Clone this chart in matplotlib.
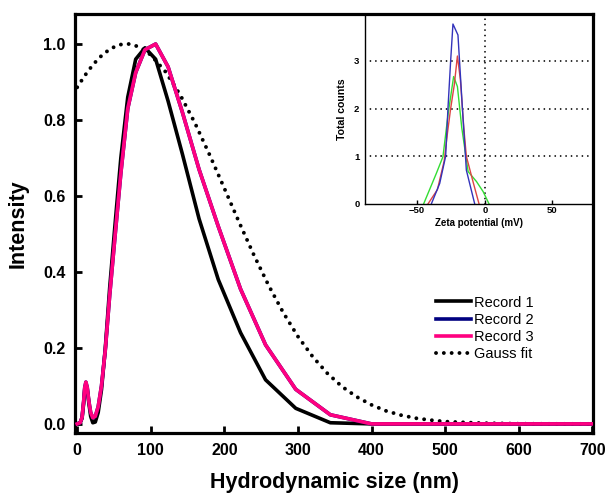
import matplotlib
matplotlib.use("Agg")
import matplotlib.pyplot as plt
import numpy as np

# ---- main chart data ----
size_nm = [0, 4, 6.6, 8.8, 10.2, 11.8, 13.7, 15.8, 18.3, 21.2, 24.6, 28.5, 33.0, 38.2, 44.2,
           51.2, 59.3, 68.7, 79.5, 92.1, 106.6, 123.5, 143.0, 165.6, 191.7, 222.0,
           256.0, 297.0, 344.0, 400.0, 460.0, 530.0, 600.0, 700.0]
record1 = [0.0, 0.003, 0.015, 0.055, 0.09, 0.105, 0.09, 0.055, 0.02, 0.003, 0.005, 0.03, 0.09,
           0.20, 0.36, 0.52, 0.70, 0.86, 0.96, 0.99, 0.96, 0.85, 0.71, 0.54, 0.38, 0.24,
           0.116, 0.041, 0.003, 0.0, 0.0, 0.0, 0.0, 0.0]
record3 = [0.0, 0.003, 0.017, 0.06, 0.095, 0.11, 0.095, 0.06, 0.03, 0.016, 0.02, 0.045, 0.10,
           0.195, 0.34, 0.49, 0.66, 0.83, 0.925, 0.985, 1.0, 0.94, 0.82, 0.67, 0.52, 0.355,
           0.208, 0.091, 0.024, 0.0, 0.0, 0.0, 0.0, 0.0]
record2 = list(record3)

gauss_x = [0, 10, 20, 30, 40, 50, 60, 70, 80, 90, 100, 120, 140, 160, 180, 200, 220, 240,
           260, 280, 300, 320, 340, 360, 380, 400, 420, 440, 460, 480, 500, 550, 600, 650, 700]
gauss_y = [0.886, 0.916, 0.942, 0.964, 0.980, 0.992, 0.999, 1.0, 0.995, 0.986, 0.971, 0.927,
           0.866, 0.792, 0.708, 0.620, 0.531, 0.445, 0.365, 0.293, 0.230, 0.177, 0.133,
           0.098, 0.071, 0.050, 0.034, 0.023, 0.015, 0.010, 0.006, 0.002, 0.0004, 0.0001, 0.0]

x_ticks = [0, 100, 200, 300, 400, 500, 600, 700]
y_ticks = [0.0, 0.2, 0.4, 0.6, 0.8, 1.0]
legend_labels = ["Record 1", "Record 2", "Record 3", "Gauss fit"]

# ---- inset data ----
zeta_blue_x = [-39.5, -33.3, -28.9, -27.2, -25.2, -23.5, -19.8, -16.5, -13.6, -7.4]
zeta_blue_y = [0.0, 0.43, 1.0, 2.0, 3.0, 3.77, 3.54, 2.0, 0.71, 0.0]
zeta_red_x = [-42.0, -35.0, -30.0, -27.5, -25.2, -22.5, -20.2, -18.0, -15.5, -13.6, -8.7, -4.2]
zeta_red_y = [0.0, 0.3, 0.9, 1.5, 2.0, 2.5, 3.1, 2.6, 1.6, 1.0, 0.47, 0.0]
zeta_green_x = [-45.2, -35.8, -30.9, -27.0, -23.0, -20.2, -17.0, -12.3, -6.1, -1.2, 3.2]
zeta_green_y = [0.0, 0.64, 0.99, 1.9, 2.67, 2.46, 1.6, 0.68, 0.47, 0.26, 0.0]
zeta_ticks = [-50, 0, 50]
count_ticks = [0, 1, 2, 3]

plt.rcParams['font.family'] = ['Liberation Sans', 'DejaVu Sans']

fig = plt.figure(figsize=(6.08, 4.93), dpi=100)
ax = fig.add_axes([75/608, 1-433/493, (593-75)/608, (433-14)/493])

dot_style = (0, (0.01, 2.0))
ax.plot(size_nm, record1, color='black', lw=2.6, label=legend_labels[0], zorder=3)
ax.plot(size_nm, record2, color='#000080', lw=2.6, label=legend_labels[1], zorder=3)
ax.plot(size_nm, record3, color='#ff0080', lw=2.6, label=legend_labels[2], zorder=4)
ax.plot(gauss_x, gauss_y, color='black', lw=2.8, linestyle=dot_style,
        dash_capstyle='round', label=legend_labels[3], zorder=2)

ax.set_xlim(-3, 701)
ax.set_ylim(-0.024, 1.079)
ax.set_xticks(x_ticks)
ax.set_yticks(y_ticks)
ax.set_yticklabels([f"{v:.1f}" for v in y_ticks])
ax.tick_params(direction='in', length=5, width=2, labelsize=11.5, pad=7)
for lab in ax.get_xticklabels() + ax.get_yticklabels():
    lab.set_fontweight('bold')
for sp in ax.spines.values():
    sp.set_linewidth(2.3)

ax.set_xlabel("Hydrodynamic size (nm)", fontsize=15.5, fontweight='bold', labelpad=10)
ax.set_ylabel("Intensity", fontsize=15.5, fontweight='bold', labelpad=10)

leg = ax.legend(loc='upper left', bbox_to_anchor=(0.697, 0.328), frameon=False,
                fontsize=10.5, handlelength=2.4, handletextpad=0.2, labelspacing=0.22,
                borderpad=0, borderaxespad=0)

# ---- inset ----
ins = fig.add_axes([365/608, 1-204/493, (593-365)/608, (204-14)/493])
ins.plot(zeta_green_x, zeta_green_y, color='#33dd33', lw=1.0)
ins.plot(zeta_red_x, zeta_red_y, color='#dd4444', lw=1.0)
ins.plot(zeta_blue_x, zeta_blue_y, color='#3333bb', lw=1.0)
ins.set_xlim(-88.5, 80)
ins.set_ylim(0, 3.98)
ins.set_xticks(zeta_ticks)
ins.set_yticks(count_ticks)
for yv in count_ticks[1:]:
    ins.axhline(yv, color='black', lw=1.3, linestyle=(0, (0.01, 3.0)), dash_capstyle='round', zorder=0)
ins.axvline(0, color='black', lw=1.3, linestyle=(0, (0.01, 3.0)), dash_capstyle='round', zorder=0)
ins.tick_params(direction='in', length=3, width=1, labelsize=6.8, pad=1.5)
ins.tick_params(axis='y', length=0, pad=4)
for lab in ins.get_xticklabels() + ins.get_yticklabels():
    lab.set_fontweight('bold')
ins.spines['top'].set_visible(False)
ins.spines['right'].set_visible(False)
for s in ('left', 'bottom'):
    ins.spines[s].set_linewidth(1.0)
ins.set_xlabel("Zeta potential (mV)", fontsize=7.0, fontweight='bold', labelpad=2)
ins.set_ylabel("Total counts", fontsize=7.6, fontweight='bold', labelpad=5)
ins.patch.set_alpha(0)

fig.savefig("out.png", dpi=100)
